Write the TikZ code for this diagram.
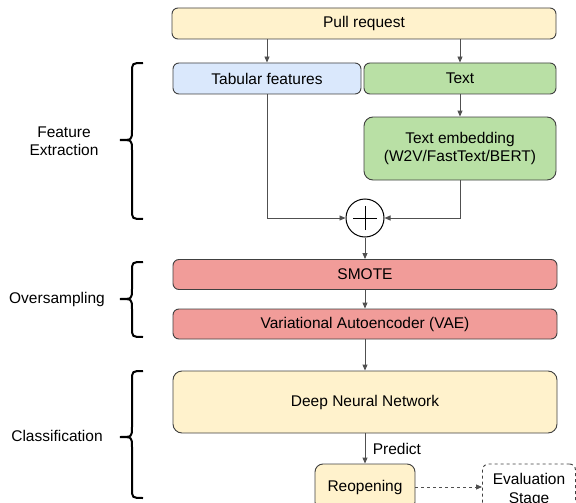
\documentclass[tikz,border=0pt]{standalone}
\usepackage{fontspec}
\setmainfont{Liberation Sans}
\usetikzlibrary{arrows.meta}
\definecolor{yel}{HTML}{FFF2CC}
\definecolor{blu}{HTML}{DAE8FC}
\definecolor{grn}{HTML}{B9E0A5}
\definecolor{red1}{HTML}{F19C99}
\definecolor{edge}{HTML}{404040}
\definecolor{ln}{HTML}{505050}
\tikzset{
  box/.style={draw=edge, line width=0.9pt, rounded corners=6pt, inner sep=0pt, align=center,
    font=\fontsize{15.5}{18.5}\selectfont},
  arr/.style={draw=ln, line width=0.9pt, -{Triangle[length=6pt,width=5pt]}},
  brace/.style={draw=black, line width=2pt},
  lbl/.style={align=center, font=\fontsize{15.5}{18.5}\selectfont},
}
\begin{document}
\begin{tikzpicture}[x=1pt,y=-1pt]
\useasboundingbox (0,0) rectangle (576,503);
\clip (0,0) rectangle (576,503);
\node[box, fill=yel, minimum width=384pt, minimum height=31pt] (pr) at (364,23.5) {Pull request};
\node[box, fill=blu, minimum width=188pt, minimum height=31pt] (tab) at (267,78.5) {Tabular features};
\node[box, fill=grn, minimum width=192pt, minimum height=31pt] (txt) at (460,78.5) {Text};
\node[box, fill=grn, minimum width=192pt, minimum height=63pt, rounded corners=9pt] (emb) at (460,148.5) {Text embedding\\(W2V/FastText/BERT)};
\node[draw=black, line width=1pt, circle, minimum size=38pt, inner sep=0pt] (plus) at (365,218) {};
\draw[line width=1pt] ([xshift=-12pt]plus.center) -- ([xshift=12pt]plus.center);
\draw[line width=1pt] ([yshift=-12pt]plus.center) -- ([yshift=12pt]plus.center);
\node[box, fill=red1, minimum width=384pt, minimum height=30pt] (smote) at (365,274.5) {SMOTE};
\node[box, fill=red1, minimum width=384pt, minimum height=30pt] (vae) at (365,324) {Variational Autoencoder (VAE)};
\node[box, fill=yel, minimum width=384pt, minimum height=62pt, rounded corners=9pt] (dnn) at (365,402) {Deep Neural Network};
\node[box, fill=yel, minimum width=100pt, minimum height=46pt, rounded corners=8pt] (reo) at (365,487) {Reopening};
\node[box, dashed, fill=white, minimum width=93pt, minimum height=52pt, rounded corners=6pt] (eval) at (529,490) {Evaluation\\Stage};

\draw[arr] (tab.north |- pr.south) -- (tab.north);
\draw[arr] (txt.north |- pr.south) -- (txt.north);
\draw[arr] (txt.south) -- (emb.north);
\draw[arr] (tab.south) |- (plus.west);
\draw[arr] (emb.south) |- (plus.east);
\draw[arr] (plus.south) -- (smote.north);
\draw[arr] (smote.south) -- (vae.north);
\draw[arr] (vae.south) -- (dnn.north);
\draw[arr] (dnn.south) -- node[right, lbl, xshift=4pt] (pred) {Predict} (reo.north);
\draw[arr, dashed] (reo.east) -- (reo.east -| eval.west);

% braces
\draw[brace] (143,63) .. controls (132,63) .. (132,73) -- (132,130) .. controls (132,140) .. (120,140) .. controls (132,140) .. (132,150) -- (132,209) .. controls (132,219) .. (143,219);
\draw[brace] (143,262) .. controls (132,262) .. (132,272) -- (132,289) .. controls (132,299) .. (120,299) .. controls (132,299) .. (132,309) -- (132,327) .. controls (132,337) .. (143,337);
\draw[brace] (143,371) .. controls (132,371) .. (132,381) -- (132,427) .. controls (132,437) .. (120,437) .. controls (132,437) .. (132,447) -- (132,488) .. controls (132,498) .. (143,498);

\node[lbl] (fe) at (64,141) {Feature\\Extraction};
\node[lbl] (os) at (57,299) {Oversampling};
\node[lbl] (cl) at (57,436) {Classification};
\end{tikzpicture}
\end{document}
